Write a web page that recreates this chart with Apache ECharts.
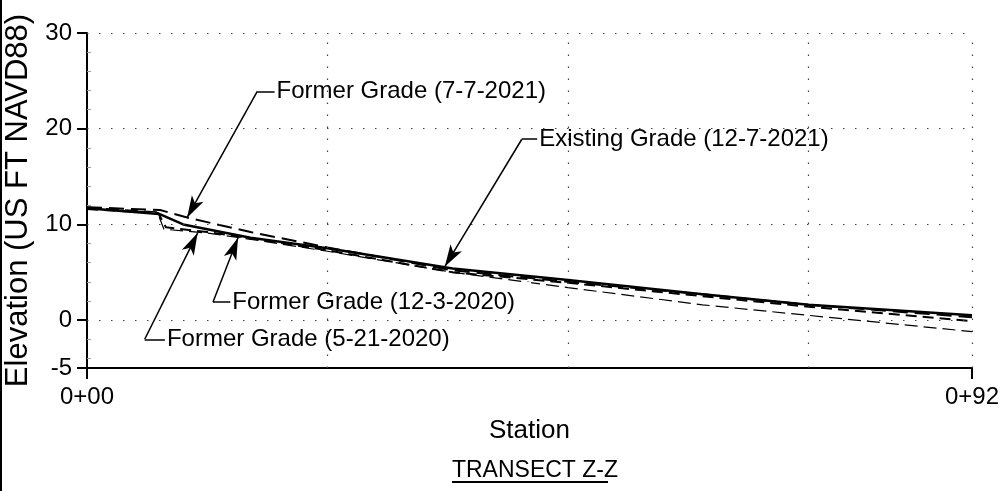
<!DOCTYPE html>
<html>
<head>
<meta charset="utf-8">
<script src="https://cdn.jsdelivr.net/npm/echarts@6/dist/echarts.min.js"></script>
<style>
  html, body { margin: 0; padding: 0; background: #fff; }
  #main { width: 1002px; height: 491px; }
</style>
</head>
<body>
<div id="main"></div>
<script>
var stationsExisting = [0, 7.5, 10, 17, 25, 38, 50, 64, 75, 92];
var elevExisting     = [11.7, 11.1, 10.0, 8.6, 7.5, 5.4, 4.2, 2.7, 1.6, 0.5];

var stations772021 = [0, 7.6, 10.5, 17, 25, 38, 50, 64, 75, 92];
var elev772021     = [11.8, 11.5, 10.7, 9.2, 7.6, 5.2, 4.0, 2.7, 1.6, 0.3];

var stations1232020 = [0, 7.4, 8.2, 12.5, 16, 25, 38, 50, 64, 75, 92];
var elev1232020     = [11.6, 11.2, 9.7, 9.2, 8.7, 7.3, 5.0, 3.9, 2.5, 1.4, -0.1];

var stations5212020 = [0, 7.3, 8.0, 12.5, 16, 25, 38, 50, 64, 75, 92];
var elev5212020     = [11.8, 11.3, 9.5, 9.1, 8.6, 7.2, 5.0, 3.4, 1.6, 0.5, -1.2];

var yTickLabels = [-5, 0, 10, 20, 30];
var yMinorTicks = [-4, -2, 2, 4, 6, 8, 12, 14, 16, 18, 22, 24, 26, 28];
var xTickLabels = [0, 92];
var xGrid = [25, 50, 75, 92];
var yGrid = [0, 10, 20, 30];

// callouts: text, arrow tip, leader elbow, leader end (station, elevation)
var calloutTexts  = ['Former Grade (7-7-2021)', 'Existing Grade (12-7-2021)', 'Former Grade (12-3-2020)', 'Former Grade (5-21-2020)'];
var calloutTips   = [[10.4, 10.7], [37.2, 5.6], [15.7, 8.6], [11.5, 9.1]];
var calloutElbows = [[17.7, 23.9], [45.2, 18.9], [13.1, 1.9], [6.0, -2.0]];
var calloutEnds   = [[19.5, 23.9], [46.8, 18.9], [14.9, 1.9], [8.1, -2.0]];

function zip(xs, ys) {
    var out = [];
    for (var i = 0; i < xs.length; i++) out.push([xs[i], ys[i]]);
    return out;
}

function stationLabel(v) {
    var ft = Math.round(v);
    return Math.floor(ft / 100) + '+' + (ft % 100 < 10 ? '0' : '') + (ft % 100);
}

var font = 'Liberation Sans';
var dotted = { color: '#444', width: 1.2, type: [1.5, 10.5] };

var gridLines = [];
xGrid.forEach(function (x) { gridLines.push({ xAxis: x }); });
yGrid.forEach(function (y) { gridLines.push({ yAxis: y }); });

var leaderLines = [];
var labelPoints = [];
for (var i = 0; i < calloutTexts.length; i++) {
    leaderLines.push([{ coord: calloutEnds[i], symbol: 'none' }, { coord: calloutElbows[i], symbol: 'none' }]);
    leaderLines.push([{ coord: calloutElbows[i], symbol: 'none' }, { coord: calloutTips[i], symbol: 'arrow', symbolSize: [10, 22] }]);
    labelPoints.push({ coord: calloutEnds[i], value: calloutTexts[i] });
}

var myChart = echarts.init(document.getElementById('main'));

var option = {
    animation: false,
    backgroundColor: '#fff',
    textStyle: { fontFamily: font, color: '#000' },
    title: {
        text: 'TRANSECT Z-Z',
        left: 530,
        top: 454,
        textAlign: 'center',
        textStyle: { fontFamily: font, fontSize: 23, fontWeight: 'normal', color: '#000' }
    },
    graphic: [
        { type: 'line', shape: { x1: 452, y1: 482, x2: 608, y2: 482 }, style: { stroke: '#000', lineWidth: 2 } },
        { type: 'line', shape: { x1: 1, y1: 0, x2: 1, y2: 491 }, style: { stroke: '#000', lineWidth: 2 } }
    ],
    grid: { left: 87, right: 30, top: 33, bottom: 123, outerBoundsMode: 'none', containLabel: false },
    xAxis: {
        type: 'value',
        min: 0,
        max: 92,
        name: 'Station',
        nameLocation: 'middle',
        nameGap: 50,
        nameTextStyle: { fontFamily: font, fontSize: 26, color: '#000' },
        axisLine: { show: true, onZero: false, lineStyle: { color: '#000', width: 2 } },
        axisTick: { show: true, customValues: xTickLabels, length: 11, lineStyle: { color: '#000', width: 2 } },
        axisLabel: {
            customValues: xTickLabels,
            margin: 17,
            fontSize: 24,
            color: '#000',
            fontFamily: font,
            formatter: stationLabel
        },
        splitLine: { show: false }
    },
    yAxis: [
        {
            type: 'value',
            min: -5,
            max: 30,
            name: 'Elevation (US FT NAVD88)',
            nameLocation: 'middle',
            nameGap: 52,
            nameTextStyle: { fontFamily: font, fontSize: 31, color: '#000' },
            axisLine: { show: true, onZero: false, lineStyle: { color: '#000', width: 2 } },
            axisTick: { show: true, customValues: yTickLabels, length: 10, lineStyle: { color: '#000', width: 2 } },
            axisLabel: { customValues: yTickLabels, margin: 15, fontSize: 24, color: '#000', fontFamily: font },
            splitLine: { show: false }
        },
        {
            type: 'value',
            min: -5,
            max: 30,
            position: 'left',
            axisLine: { show: false, onZero: false },
            axisTick: { show: true, inside: true, customValues: yMinorTicks, length: 4, lineStyle: { color: '#999', width: 1 } },
            axisLabel: { show: false },
            splitLine: { show: false }
        }
    ],
    series: [
        {
            type: 'line',
            data: [],
            silent: true,
            z: 1,
            markLine: {
                silent: true,
                symbol: 'none',
                label: { show: false },
                lineStyle: dotted,
                data: gridLines
            }
        },
        {
            name: 'Former Grade (5-21-2020)',
            type: 'line',
            data: zip(stations5212020, elev5212020),
            showSymbol: false,
            z: 2,
            lineStyle: { color: '#000', width: 1.2, type: [13, 6] }
        },
        {
            name: 'Former Grade (12-3-2020)',
            type: 'line',
            data: zip(stations1232020, elev1232020),
            showSymbol: false,
            z: 2,
            lineStyle: { color: '#000', width: 2, type: [11, 6] }
        },
        {
            name: 'Former Grade (7-7-2021)',
            type: 'line',
            data: zip(stations772021, elev772021),
            showSymbol: false,
            z: 2,
            lineStyle: { color: '#000', width: 2, type: [15, 7] }
        },
        {
            name: 'Existing Grade (12-7-2021)',
            type: 'line',
            data: zip(stationsExisting, elevExisting),
            showSymbol: false,
            z: 3,
            lineStyle: { color: '#000', width: 2.5, type: 'solid' }
        },
        {
            type: 'line',
            data: [],
            silent: true,
            z: 4,
            markPoint: {
                silent: true,
                z: 4,
                symbol: 'rect',
                symbolSize: 0,
                label: {
                    show: true,
                    position: 'right',
                    distance: 0,
                    offset: [-28, 0],
                    formatter: '{c}',
                    fontFamily: font,
                    fontSize: 24,
                    color: '#000',
                    backgroundColor: '#fff',
                    padding: [8, 16, 8, 30]
                },
                data: labelPoints
            }
        },
        {
            type: 'line',
            data: [],
            silent: true,
            zlevel: 1,
            z: 5,
            markLine: {
                silent: true,
                zlevel: 1,
                z: 10,
                label: { show: false },
                lineStyle: { color: '#000', width: 1.5, type: 'solid' },
                data: leaderLines
            }
        }
    ]
};

myChart.setOption(option);
</script>
</body>
</html>
